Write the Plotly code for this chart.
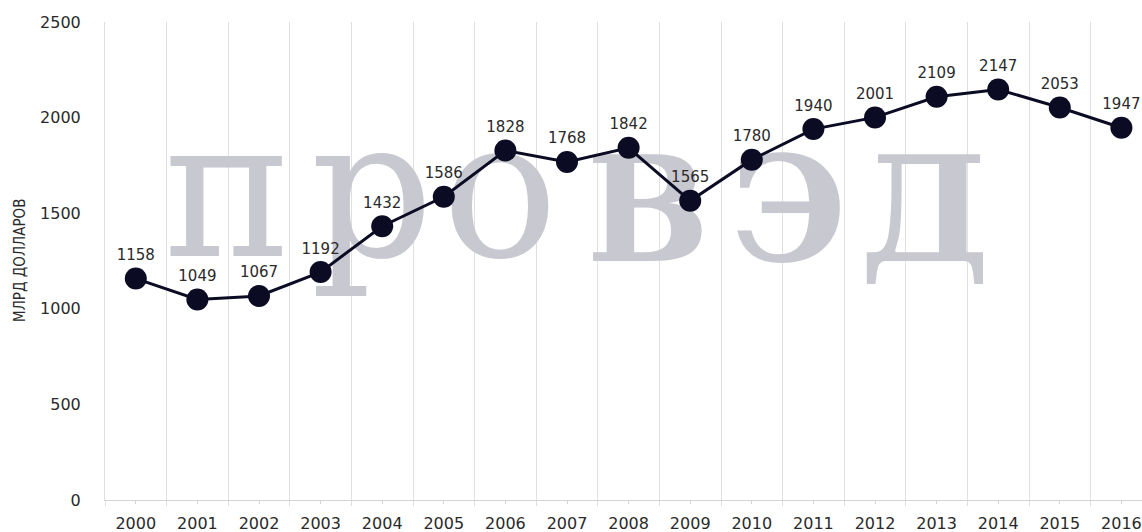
import plotly.graph_objects as go

# ---- data ----
years = [str(y) for y in range(2000, 2017)]
values = [1158, 1049, 1067, 1192, 1432, 1586, 1828, 1768, 1842,
          1565, 1780, 1940, 2001, 2109, 2147, 2053, 1947]
y_ticks = [0, 500, 1000, 1500, 2000, 2500]
y_title = "МЛРД ДОЛЛАРОВ"

# watermark letters (decorative)
wm_light = ["п", "р", "о"]
wm_bold = ["В", "Э", "Д"]

W, H = 1142, 532
L, R, T, B = 105, 0, 22, 32
plot_w = W - L - R
cat_px = 61.6
x_max = -0.5 + plot_w / cat_px
y_px = (H - T - B) / 2500.0


def px_to_x(px):
    return (px - L) / cat_px - 0.5


def py_to_y(py):
    return (H - B - py) / y_px


xi = list(range(len(years)))
line_color = "#0b0b24"
wm_color = "#c8c8d0"
label_font = "DejaVu Sans"

fig = go.Figure()

# watermark (below line)
fig.add_trace(go.Scatter(
    x=[px_to_x(p) for p in (228, 372, 500)],
    y=[py_to_y(208)] * 3,
    mode="text", text=wm_light, textposition="middle center",
    textfont=dict(family="DejaVu Serif", size=192, color=wm_color),
    hoverinfo="skip", showlegend=False,
))
fig.add_trace(go.Scatter(
    x=[px_to_x(p) for p in (648, 789, 925)],
    y=[py_to_y(224)] * 3,
    mode="text", text=wm_bold, textposition="middle center",
    textfont=dict(family="DejaVu Serif", size=146, color=wm_color, weight="bold"),
    hoverinfo="skip", showlegend=False,
))

fig.add_trace(go.Scatter(
    x=xi, y=values,
    mode="lines+markers+text",
    text=[str(v) for v in values], textposition="top center",
    textfont=dict(family=label_font, size=15, color="#2a2a2a"),
    line=dict(color=line_color, width=3),
    marker=dict(size=22, color=line_color),
    cliponaxis=False, showlegend=False,
))

fig.update_layout(
    width=W, height=H,
    margin=dict(l=L, r=R, t=T, b=B, pad=0),
    paper_bgcolor="white", plot_bgcolor="white",
    font=dict(family=label_font, size=15, color="#2a2a2a"),
    xaxis=dict(
        range=[-0.5, x_max], tickmode="array", tickvals=xi, ticktext=years,
        showgrid=False, zeroline=False,
        showline=True, linecolor="#d4d4d8", linewidth=1,
        ticks="outside", ticklen=3, tickcolor="#d4d4d8",
        ticklabelstandoff=6,
        tickfont=dict(family=label_font, size=16, color="#2a2a2a"),
        minor=dict(tick0=-0.5, dtick=1, showgrid=True, gridcolor="#e0e0e4",
                   gridwidth=1, ticks="outside", ticklen=5, tickcolor="#e0e0e4"),
        automargin=False, fixedrange=True,
    ),
    yaxis=dict(
        range=[0, 2500], tickmode="array", tickvals=y_ticks,
        showgrid=False, zeroline=False,
        showline=True, linecolor="#e0e0e4", linewidth=1,
        ticks="", ticklabelstandoff=20,
        tickfont=dict(family=label_font, size=16, color="#2a2a2a"),
        automargin=False, fixedrange=True,
    ),
    annotations=[dict(
        text=y_title, textangle=-90, showarrow=False,
        xref="paper", yref="paper",
        x=(20 - L) / plot_w, y=0.5, xanchor="center", yanchor="middle",
        font=dict(family="Liberation Sans Narrow, DejaVu Sans Condensed, Liberation Sans", size=15, color="#2a2a2a"),
    )],
)

fig.write_html("out.html")
